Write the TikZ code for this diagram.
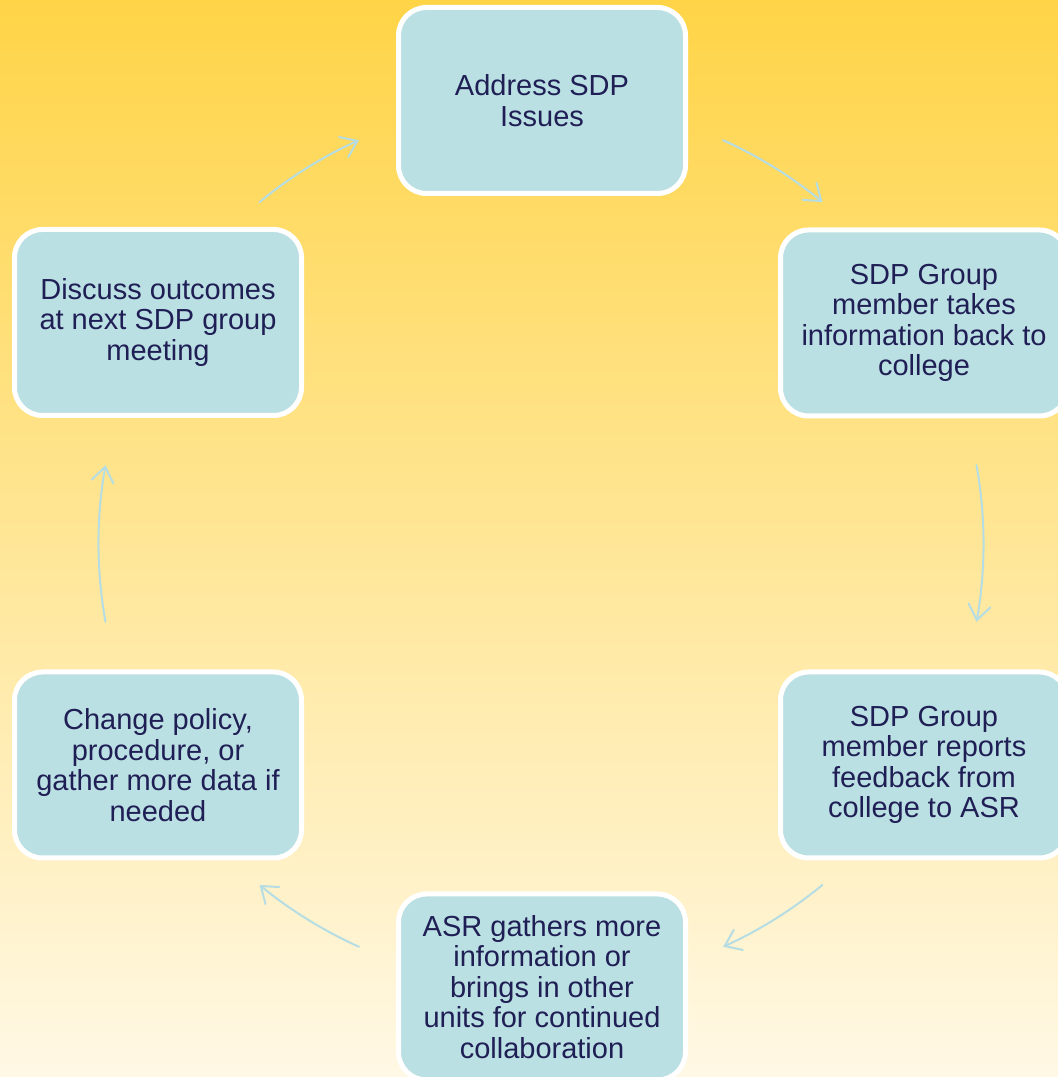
\documentclass[tikz,border=0pt]{standalone}
\usepackage{fontspec}
\setmainfont{Liberation Sans}
\usetikzlibrary{arrows.meta,shapes.misc}
\definecolor{bgtop}{HTML}{FFD447}
\definecolor{bgmid}{HTML}{FFE38D}
\definecolor{bgbot}{HTML}{FFF8E5}
\definecolor{boxfill}{HTML}{BBE0E3}
\definecolor{txt}{HTML}{1F1F55}
\definecolor{arrcol}{HTML}{B5DDE3}
\tikzset{
  stepbox/.style={draw=white, line width=5pt, fill=boxfill, rounded corners=28pt,
    minimum width=287pt, minimum height=186pt, align=center, text=txt,
    font=\fontsize{29}{30.5}\selectfont, inner sep=0pt},
  cyclearrow/.style={draw=arrcol, line width=2pt, line cap=round,
    -{Straight Barb[length=15pt,width=22pt,line cap=round]}}
}
\begin{document}
\begin{tikzpicture}[x=1pt,y=1pt]
\useasboundingbox (0,0) rectangle (1058,1077);
\clip (0,0) rectangle (1058,1077);
\shade[top color=bgtop, middle color=bgmid, bottom color=bgbot] (0,0) rectangle (1058,1077);
\coordinate (c) at (541,533.5);
\node[stepbox] (top) at (542,976.5) {Address SDP\\Issues};
\node[stepbox] (rt) at (924,754) {SDP Group\\member takes\\information back to\\college};
\node[stepbox] (rb) at (924,312) {SDP Group\\member reports\\feedback from\\college to ASR};
\node[stepbox] (bt) at (542,90) {ASR gathers more\\information or\\brings in other\\units for continued\\collaboration};
\node[stepbox] (lb) at (158,312) {Change policy,\\procedure, or\\gather more data if\\needed};
\node[stepbox] (lt) at (158,754.5) {Discuss outcomes\\at next SDP group\\meeting};
\coordinate (a1) at ([shift={(65.7:442.5)}]c);
\coordinate (a2) at ([shift={(10.2:442.5)}]c);
\coordinate (a3) at ([shift={(-50.5:442.5)}]c);
\coordinate (a4) at ([shift={(-114.3:442.5)}]c);
\coordinate (a5) at ([shift={(190.2:442.5)}]c);
\coordinate (a6) at ([shift={(129.5:442.5)}]c);
\draw[cyclearrow] (a1) arc[start angle=65.7, end angle=50.5, radius=442.5];
\draw[cyclearrow] (a2) arc[start angle=10.2, end angle=-10.2, radius=442.5];
\draw[cyclearrow] (a3) arc[start angle=-50.5, end angle=-65.7, radius=442.5];
\draw[cyclearrow] (a4) arc[start angle=-114.3, end angle=-129.5, radius=442.5];
\draw[cyclearrow] (a5) arc[start angle=190.2, end angle=169.8, radius=442.5];
\draw[cyclearrow] (a6) arc[start angle=129.5, end angle=114.3, radius=442.5];
\end{tikzpicture}
\end{document}
